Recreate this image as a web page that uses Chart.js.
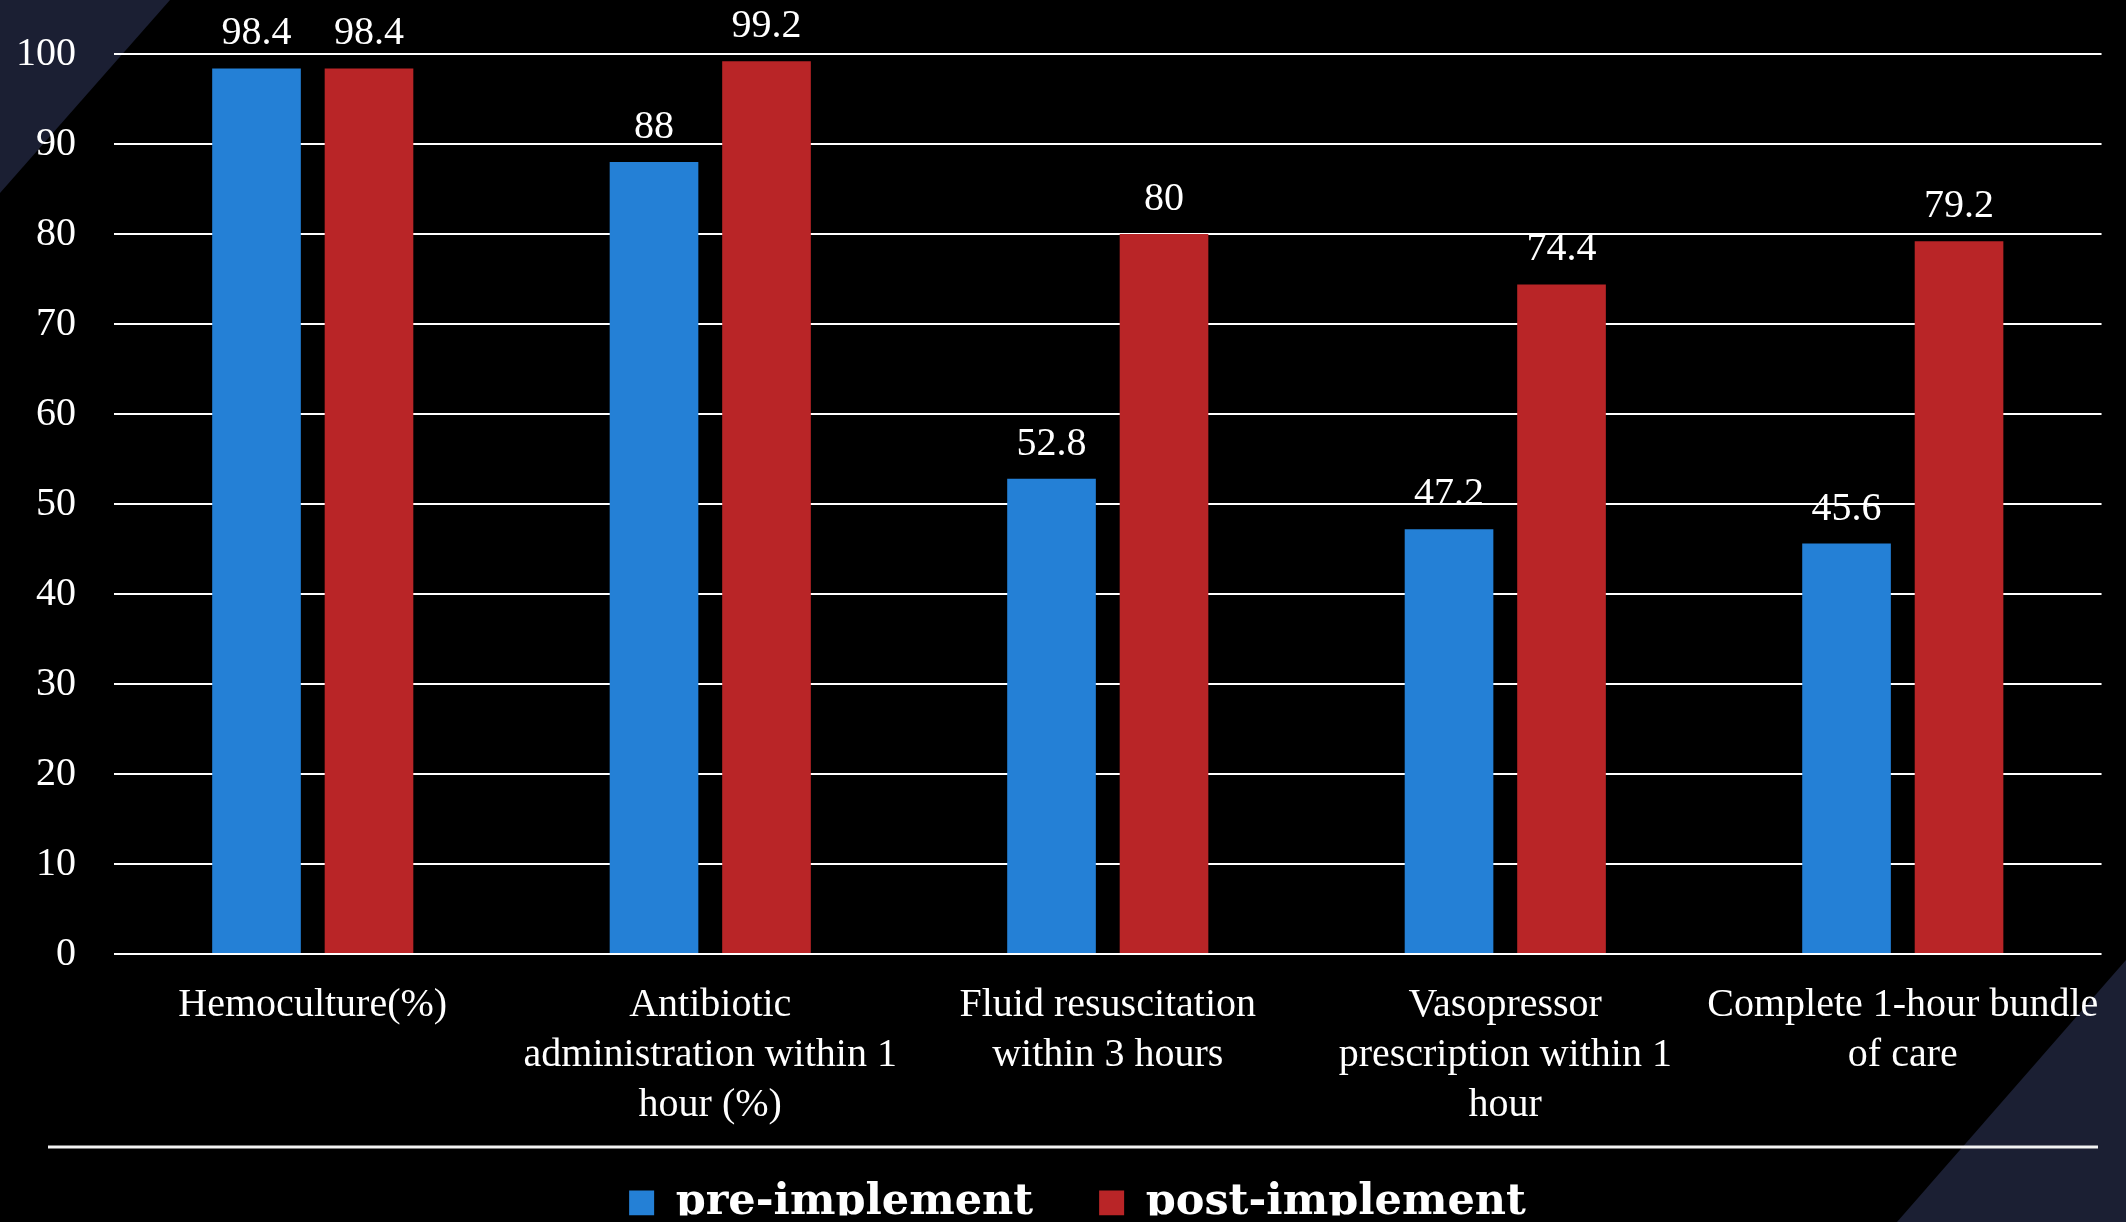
<!DOCTYPE html>
<html>
<head>
<meta charset="utf-8">
<title>Sepsis bundle compliance</title>
<script src="https://cdn.jsdelivr.net/npm/chart.js@4.4.1/dist/chart.umd.min.js"></script>
<style>
    html, body { margin: 0; padding: 0; background: #000; overflow: hidden; }
    #wrap { width: 2126px; height: 1222px; position: relative; }
</style>
</head>
<body>
<div id="wrap"><canvas id="bundle-chart"></canvas></div>
<script>
// Compliance (%) before and after the protocol was implemented
const categories = [
    'Hemoculture(%)',
    ['Antibiotic', 'administration within 1', 'hour (%)'],
    ['Fluid resuscitation', 'within 3 hours'],
    ['Vasopressor', 'prescription within 1', 'hour'],
    ['Complete 1-hour bundle', 'of care']
];
const preImplement = [98.4, 88, 52.8, 47.2, 45.6];
const postImplement = [98.4, 99.2, 80, 74.4, 79.2];
const seriesNames = ['pre-implement', 'post-implement'];
const yMin = 0;
const yMax = 100;
const yStep = 10;

const serif = 'Liberation Serif';
const navy = '#1b1f33';
const legendSize = 43;
const legendGap = 66;

const backdrop = {
    id: 'backdrop',
    afterLayout(chart) {
        // let the wrapped category labels run down to the rule instead of being clipped
        const xs = chart.scales.x;
        xs.bottom = chart.height;
        xs.height = xs.bottom - xs.top;
        // place the legend row under the rule, centred a little right of the page middle
        const lg = chart.legend;
        const h = lg.height;
        lg.left = 46;
        lg.width = lg.right - lg.left;
        lg.top = 1203 - legendGap - legendSize / 2;
        lg.bottom = lg.top + h;
    },
    beforeDraw(chart) {
        // black slide with the navy corner shapes, then value labels under the grid
        const ctx = chart.ctx;
        const w = chart.width, h = chart.height;
        ctx.save();
        ctx.fillStyle = '#000';
        ctx.fillRect(0, 0, w, h);
        ctx.fillStyle = navy;
        ctx.beginPath();
        ctx.moveTo(0, 0);
        ctx.lineTo(170, 0);
        ctx.lineTo(0, 193);
        ctx.closePath();
        ctx.fill();
        ctx.beginPath();
        ctx.moveTo(w, 960);
        ctx.lineTo(w, h);
        ctx.lineTo(1897, h);
        ctx.closePath();
        ctx.fill();

        ctx.fillStyle = '#fff';
        ctx.font = '40px "' + serif + '"';
        ctx.textAlign = 'center';
        ctx.textBaseline = 'alphabetic';
        chart.data.datasets.forEach((ds, i) => {
            chart.getDatasetMeta(i).data.forEach((bar, j) => {
                ctx.fillText(String(ds.data[j]), bar.x, bar.y - 24);
            });
        });
        ctx.restore();
    },
    afterDraw(chart) {
        // rule between the category labels and the legend
        const ctx = chart.ctx;
        ctx.save();
        ctx.strokeStyle = '#f2f2f2';
        ctx.lineWidth = 3;
        ctx.beginPath();
        ctx.moveTo(48, 1147);
        ctx.lineTo(2098, 1147);
        ctx.stroke();
        ctx.restore();
    }
};

new Chart(document.getElementById('bundle-chart'), {
    type: 'bar',
    data: {
        labels: categories,
        datasets: [{
            label: seriesNames[0],
            data: preImplement,
            backgroundColor: '#2480d6',
            borderWidth: 0,
            categoryPercentage: 0.566,
            barPercentage: 0.788
        }, {
            label: seriesNames[1],
            data: postImplement,
            backgroundColor: '#b92527',
            borderWidth: 0,
            categoryPercentage: 0.566,
            barPercentage: 0.788
        }]
    },
    options: {
        responsive: true,
        maintainAspectRatio: false,
        animation: false,
        layout: {
            padding: { left: 0, right: 17, top: 54, bottom: 0 }
        },
        scales: {
            y: {
                min: yMin,
                max: yMax,
                afterFit(scale) {
                    scale.width = 114;
                    // the wide label gap shouldn't push the plot down
                    scale.paddingTop = 0;
                    scale.paddingBottom = 0;
                },
                ticks: {
                    stepSize: yStep,
                    color: '#fff',
                    padding: 38,
                    font: { family: serif, size: 40 }
                },
                grid: {
                    color: '#fff',
                    lineWidth: 2,
                    drawTicks: false
                },
                border: { display: false }
            },
            x: {
                afterFit(scale) { scale.height = 168; },
                ticks: {
                    color: '#fff',
                    padding: 26,
                    autoSkip: false,
                    maxRotation: 0,
                    font: { family: serif, size: 40, lineHeight: 1.25 }
                },
                grid: { display: false, drawTicks: false },
                border: { display: false }
            }
        },
        plugins: {
            tooltip: { enabled: false },
            legend: {
                position: 'bottom',
                maxHeight: 100,
                labels: {
                    color: '#fff',
                    boxWidth: 25,
                    boxHeight: 25,
                    padding: legendGap,
                    font: { family: 'DejaVu Serif', size: legendSize, weight: 'bold' }
                }
            }
        }
    },
    plugins: [backdrop]
});
</script>
</body>
</html>
